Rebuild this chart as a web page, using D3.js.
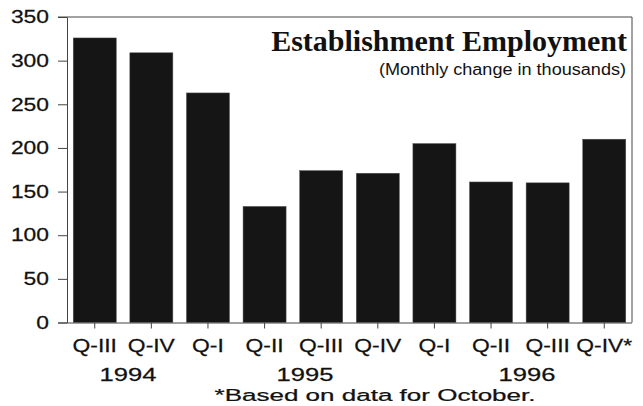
<!DOCTYPE html>
<html><head><meta charset="utf-8">
<script src="https://cdn.jsdelivr.net/npm/d3@7"></script>
<style>body{margin:0;background:#fff;} svg{display:block;}</style>
</head><body>
<svg id="c" width="643" height="406"></svg>
<script>
const quarters = ["Q-III","Q-IV","Q-I","Q-II","Q-III","Q-IV","Q-I","Q-II","Q-III","Q-IV*"];
const values = [326, 309, 263, 133, 174, 171, 205, 161, 160, 210];
const yTicks = [0,50,100,150,200,250,300,350];
const years = [{label:"1994", from:0, to:1}, {label:"1995", from:2, to:6}, {label:"1996", from:6, to:9}];
const title = "Establishment Employment";
const subtitle = "(Monthly change in thousands)";
const footnote = "*Based on data for October.";

const svg = d3.select("#c");
const L = 67, R = 632, T = 17, B = 322.5;
const SX = 1.27;
const sans = "'Liberation Sans', Arial, Helvetica, sans-serif";
const idx = quarters.map((d,i)=>i);

const x = d3.scaleBand().domain(idx).range([L,R]).paddingInner(0.24).paddingOuter(0.11);
const y = d3.scaleLinear().domain([0,350]).range([B,T]);

// bars
svg.append("g").selectAll("rect").data(values).join("rect")
  .attr("x",(d,i)=>x(i)).attr("y",d=>y(d))
  .attr("width",x.bandwidth()).attr("height",d=>y(0)-y(d))
  .attr("fill","#151515").attr("stroke","#555").attr("stroke-width",0.5);

// frame
const frameColor = "#444";
svg.append("line").attr("x1",L-9).attr("x2",R).attr("y1",T).attr("y2",T).attr("stroke",frameColor);
svg.append("line").attr("x1",R).attr("x2",R).attr("y1",T).attr("y2",B).attr("stroke",frameColor);

// y axis
const ya = svg.append("g").attr("transform",`translate(${L},0)`)
  .call(d3.axisLeft(y).tickValues(yTicks).tickSize(9).tickPadding(8).tickSizeOuter(0));
ya.select(".domain").attr("stroke",frameColor);
ya.selectAll(".tick line").attr("stroke",frameColor);
ya.selectAll(".tick text").attr("font-family",sans).attr("font-size",18).attr("fill","#111")
  .attr("stroke","#111").attr("stroke-width",0.25)
  .attr("x",-18/SX).attr("transform",`scale(${SX},1)`);

// x axis
const xa = svg.append("g").attr("transform",`translate(0,${B})`)
  .call(d3.axisBottom(x).tickSize(6).tickSizeOuter(0).tickFormat(i=>quarters[i]));
xa.select(".domain").attr("stroke",frameColor).attr("d",`M${L-9},0.5H${R}`);
xa.selectAll(".tick line").attr("stroke",frameColor);
xa.selectAll(".tick text").attr("font-family",sans).attr("font-size",18).attr("fill","#111")
  .attr("stroke","#111").attr("stroke-width",0.25)
  .attr("y",30).attr("dy",0).attr("transform",`scale(${SX},1)`);

// years
const yearX = {"1994":128, "1995":305, "1996":527};
svg.append("g").selectAll("text").data(years).join("text")
  .attr("transform",d=>`translate(${yearX[d.label]},381) scale(1.42,1)`)
  .attr("text-anchor","middle").attr("font-family",sans).attr("font-size",18).attr("fill","#111")
  .attr("stroke","#111").attr("stroke-width",0.25)
  .text(d=>d.label);

// title
svg.append("text").attr("x",627).attr("y",51).attr("text-anchor","end")
  .attr("font-family","'Liberation Serif','Times New Roman',serif").attr("font-weight","bold")
  .attr("font-size",30).attr("fill","#111").text(title);
svg.append("text").attr("transform",`translate(626,75) scale(1.13,1)`).attr("text-anchor","end")
  .attr("font-family",sans).attr("font-size",16).attr("fill","#111").text(subtitle);

// footnote
svg.append("text").attr("transform",`translate(375,401) scale(1.53,1)`).attr("text-anchor","middle")
  .attr("font-family",sans).attr("font-size",17).attr("fill","#111")
  .attr("stroke","#111").attr("stroke-width",0.25).text(footnote);
</script>
</body></html>
